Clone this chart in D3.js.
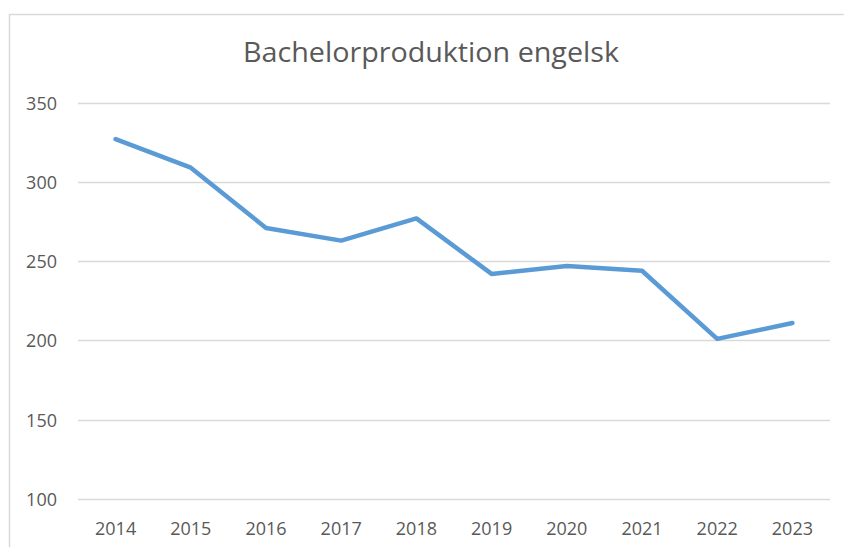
<!DOCTYPE html>
<html>
<head>
<meta charset="utf-8">
<script src="https://cdn.jsdelivr.net/npm/d3@7"></script>
<style>
  html, body { margin: 0; padding: 0; background: #fff; }
  svg { display: block; }
</style>
</head>
<body>
<div id="chart"></div>
<script>
// Datos del gráfico
const years = ["2014", "2015", "2016", "2017", "2018", "2019", "2020", "2021", "2022", "2023"];
const produktion = [327, 309, 271, 263, 277, 242, 247, 244, 201, 211];
const yTicks = [100, 150, 200, 250, 300, 350];

const width = 844;
const height = 547;
const fontFamily = "'Open Sans', 'Noto Sans', sans-serif";
const textColor = "#595959";
const gridColor = "#d9d9d9";

const svg = d3.select("#chart")
	.append("svg")
	.attr("width", width)
	.attr("height", height);

// Marco del gráfico (se sale por la derecha y por abajo)
svg.append("rect")
	.attr("x", 9.5)
	.attr("y", 14.5)
	.attr("width", 900)
	.attr("height", 600)
	.attr("fill", "#fff")
	.attr("stroke", gridColor)
	.attr("stroke-width", 1.5);

// Título
svg.append("text")
	.attr("x", 431)
	.attr("y", 62)
	.attr("text-anchor", "middle")
	.attr("font-family", fontFamily)
	.attr("font-size", 28)
	.attr("fill", textColor)
	.attr("textLength", 376)
	.attr("lengthAdjust", "spacingAndGlyphs")
	.text("Bachelorproduktion engelsk");

// Escalas
const x = d3.scaleBand()
	.domain(years)
	.range([78, 830]);

const y = d3.scaleLinear()
	.domain([100, 350])
	.range([499, 102.7]);

// Líneas de la cuadrícula
svg.append("g")
	.selectAll("line")
	.data(yTicks)
	.enter()
	.append("line")
	.attr("x1", 78)
	.attr("x2", 830)
	.attr("y1", d => Math.round(y(d)) + 0.5)
	.attr("y2", d => Math.round(y(d)) + 0.5)
	.attr("stroke", gridColor)
	.attr("stroke-width", 1.3);

// Etiquetas del eje Y
const yAxis = svg.append("g")
	.attr("transform", "translate(57,0)")
	.call(d3.axisLeft(y).tickValues(yTicks).tickSize(0).tickPadding(0));
yAxis.select(".domain").remove();
yAxis.selectAll("text")
	.attr("font-family", fontFamily)
	.attr("font-size", 18)
	.attr("fill", textColor)
	.attr("dy", "0.35em");

// Etiquetas del eje X
const xAxis = svg.append("g")
	.attr("transform", "translate(0,499)")
	.call(d3.axisBottom(x).tickSize(0).tickPadding(0));
xAxis.select(".domain").remove();
xAxis.selectAll("text")
	.attr("font-family", fontFamily)
	.attr("font-size", 18)
	.attr("fill", textColor)
	.attr("dy", null)
	.attr("y", 36);

// Línea de datos
const line = d3.line()
	.x((d, i) => x(years[i]) + x.bandwidth() / 2)
	.y(d => y(d));

svg.append("path")
	.datum(produktion)
	.attr("d", line)
	.attr("fill", "none")
	.attr("stroke", "#5b9bd5")
	.attr("stroke-width", 4.5)
	.attr("stroke-linecap", "round")
	.attr("stroke-linejoin", "round");
</script>
</body>
</html>
